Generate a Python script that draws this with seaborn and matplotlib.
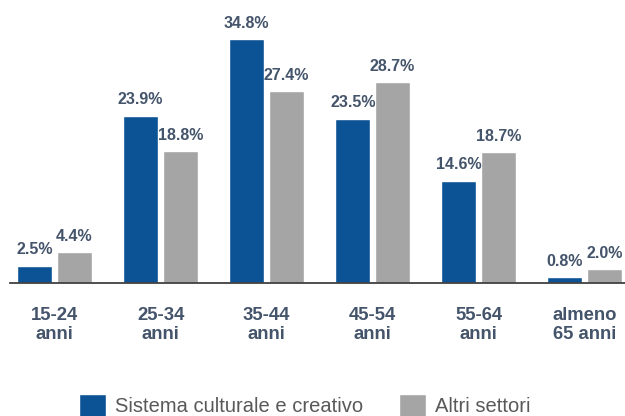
import matplotlib
matplotlib.use("Agg")
import matplotlib.pyplot as plt
import seaborn as sns
import pandas as pd

categories = ["15-24\nanni", "25-34\nanni", "35-44\nanni", "45-54\nanni", "55-64\nanni", "almeno\n65 anni"]
series_names = ["Sistema culturale e creativo", "Altri settori"]
cultura = [2.5, 23.9, 34.8, 23.5, 14.6, 0.8]
altri = [4.4, 18.8, 27.4, 28.7, 18.7, 2.0]

colors = ["#0b5394", "#a5a5a5"]
text_color = "#44546a"

df = pd.DataFrame({
    "fascia": categories * 2,
    "serie": [series_names[0]] * len(categories) + [series_names[1]] * len(categories),
    "valore": cultura + altri,
})

sns.set_theme(style="white")
plt.rcParams["font.family"] = ["Liberation Sans", "DejaVu Sans"]

fig = plt.figure(figsize=(6.25, 4.16), dpi=100)
ax = fig.add_axes([10 / 625, 133 / 416, 615 / 625, 266 / 416])

sns.barplot(data=df, x="fascia", y="valore", hue="serie", palette=colors,
            width=0.75, gap=0.125, saturation=1, ax=ax, legend=True)

for cont in ax.containers:
    ax.bar_label(cont, fmt="%.1f%%", padding=6, fontsize=11.5,
                 fontweight="bold", color=text_color)

ax.set_xlim(-0.42, 5.38)
ax.set_ylim(0, 38)
ax.set_xlabel("")
ax.set_ylabel("")
ax.set_yticks([])
for s in ["top", "left", "right"]:
    ax.spines[s].set_visible(False)
ax.spines["bottom"].set_color("#404040")
ax.spines["bottom"].set_linewidth(1.3)
ax.tick_params(axis="x", length=0, pad=17)
for lbl in ax.get_xticklabels():
    lbl.set_fontsize(13.3)
    lbl.set_fontweight("bold")
    lbl.set_color(text_color)
    lbl.set_linespacing(1.15)

handles, labels = ax.get_legend_handles_labels()
ax.get_legend().remove()
leg = fig.legend(handles, labels, loc="center", bbox_to_anchor=(0.488, 0.025),
                 ncol=2, frameon=False, fontsize=14.5, handlelength=1.34,
                 handleheight=1.34, handletextpad=0.45, columnspacing=1.8,
                 borderpad=0)
for t in leg.get_texts():
    t.set_color("#595959")

fig.savefig("out.png", dpi=100)
